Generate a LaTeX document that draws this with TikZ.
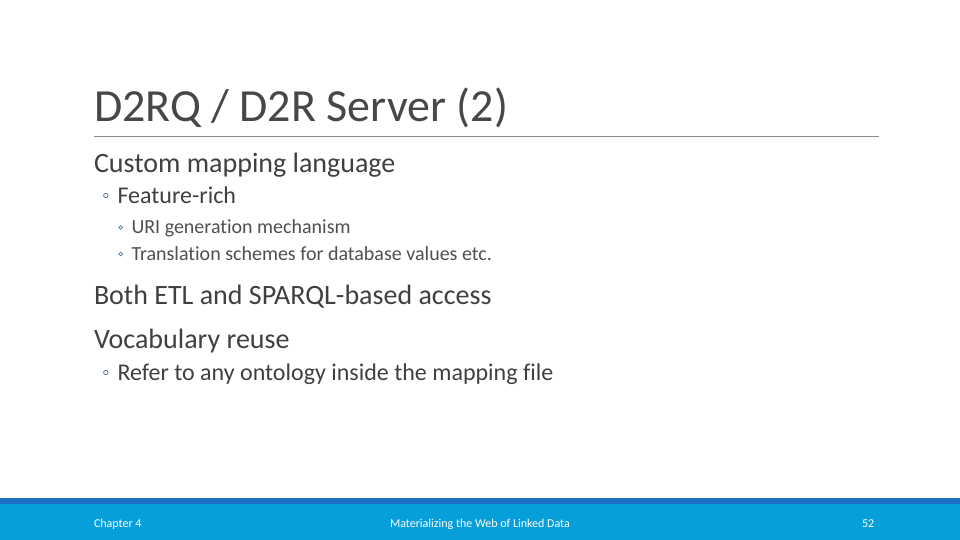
\documentclass[tikz,border=0pt]{standalone}
\usepackage{fontspec}
\setmainfont{Carlito}[Ligatures=NoCommon]
\definecolor{titlecol}{HTML}{474747}
\definecolor{bodycol}{HTML}{404040}
\definecolor{subcol}{HTML}{505050}
\definecolor{bulcol}{HTML}{55779C}
\definecolor{barDark}{HTML}{1B6EC2}
\definecolor{barLight}{HTML}{069FDA}
\definecolor{rulecol}{HTML}{8C8C8C}
\begin{document}
\begin{tikzpicture}[x=1pt,y=-1pt,
  txt/.style={anchor=base west,inner sep=0pt,outer sep=0pt},
  ttl/.style={txt,font=\fontsize{46}{52}\selectfont,text=titlecol},
  lvA/.style={txt,font=\fontsize{28}{32}\selectfont,text=bodycol},
  lvB/.style={txt,font=\fontsize{24}{28}\selectfont,text=bodycol},
  lvC/.style={txt,font=\fontsize{20}{24}\selectfont,text=subcol},
  bulB/.style={circle,draw=bulcol,line width=0.8pt,minimum size=4.4pt,inner sep=0pt},
  bulC/.style={circle,draw=bulcol,line width=0.7pt,minimum size=3.8pt,inner sep=0pt},
  foot/.style={txt,font=\fontsize{12}{14}\selectfont,text=white}]
\useasboundingbox (0,0) rectangle (960,540);
\fill[white] (0,0) rectangle (960,540);
\fill[barLight] (0,504) rectangle (960,540);
\fill[barDark] (0,498) rectangle (960,504);
\node[ttl] (title) at (94,121.5) {D2RQ / D2R Server (2)};
\coordinate (ruleL) at (94,136);
\coordinate (ruleR) at (879,136);
\draw[rulecol,line width=0.9pt] (ruleL) -- (ruleR);
\node[lvA] (a1) at (94,173) {Custom mapping language};
\node[bulB] (pb1) at (105.8,195.5) {};
\node[lvB] (b1) at (117.5,203) {Feature-rich};
\node[bulC] (pc1) at (120.8,227.5) {};
\node[lvC] (c1) at (131.5,233) {URI generation mechanism};
\node[bulC] (pc2) at (120.8,254) {};
\node[lvC] (c2) at (131.5,260) {Translation schemes for database values etc.};
\node[lvA] (a2) at (94,304.5) {Both ETL and SPARQL-based access};
\node[lvA] (a3) at (94,348) {Vocabulary reuse};
\node[bulB] (pb2) at (105.8,372.5) {};
\node[lvB] (b2) at (117.5,380) {Refer to any ontology inside the mapping file};
\node[foot] (f1) at (94,527) {Chapter 4};
\node[foot] (f2) at (390,527) {Materializing the Web of Linked Data};
\node[foot] (f3) at (862,527) {52};
\end{tikzpicture}
\end{document}
